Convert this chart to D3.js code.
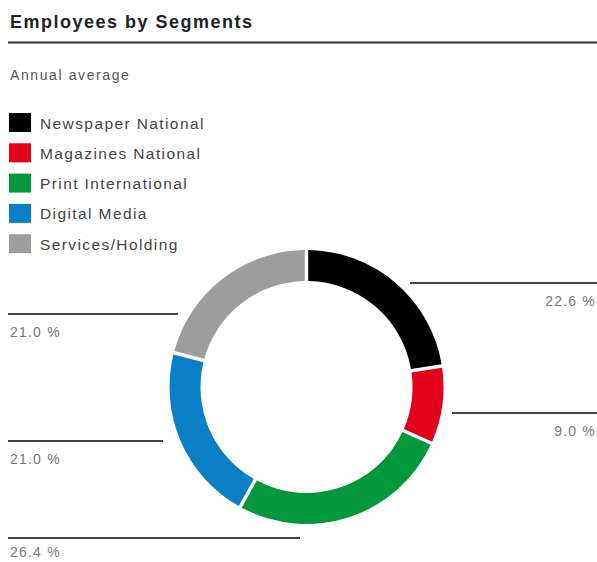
<!DOCTYPE html>
<html>
<head>
<meta charset="utf-8">
<script src="https://cdn.jsdelivr.net/npm/d3@7"></script>
<style>
  body { margin: 0; background: #fff; }
  text { font-family: "Liberation Sans", Arial, sans-serif; }
</style>
</head>
<body>
<div id="vis-holder"></div>
<script>
// chart data
const segments = ["Newspaper National", "Magazines National", "Print International", "Digital Media", "Services/Holding"];
const shares = [22.6, 9.0, 26.4, 21.0, 21.0];
const colors = ["#000000", "#e2001a", "#00983a", "#0a7fc6", "#9d9d9d"];
const labelText = ["22.6 %", "9.0 %", "26.4 %", "21.0 %", "21.0 %"];

const width = 597;
const height = 562;

const svg = d3.select("#vis-holder")
  .append("svg")
  .attr("width", width)
  .attr("height", height);

// title + rule
svg.append("text")
  .attr("x", 10).attr("y", 28)
  .attr("font-size", "18px")
  .attr("font-weight", "bold")
  .attr("letter-spacing", "1.5px")
  .attr("fill", "#222")
  .text("Employees by Segments");

svg.append("line")
  .attr("x1", 8).attr("x2", width)
  .attr("y1", 42.5).attr("y2", 42.5)
  .attr("stroke", "#333").attr("stroke-width", 2);

svg.append("text")
  .attr("x", 10).attr("y", 80)
  .attr("font-size", "14px")
  .attr("letter-spacing", "1.6px")
  .attr("fill", "#555")
  .text("Annual average");

// legend
const legend = svg.append("g").attr("transform", "translate(9,113)");
const rows = legend.selectAll("g")
  .data(segments)
  .enter().append("g")
  .attr("transform", (d, i) => `translate(0,${i * 30.3})`);

rows.append("rect")
  .attr("width", 22).attr("height", 19)
  .attr("fill", (d, i) => colors[i]);

rows.append("text")
  .attr("x", 31).attr("y", 15.5)
  .attr("font-size", "15.5px")
  .attr("letter-spacing", "1.4px")
  .attr("fill", "#444")
  .text(d => d);

// donut
const cx = 306.5, cy = 387, outerR = 137, innerR = 106;

const pie = d3.pie().sort(null).value(d => d)
  .padAngle(0.02);
const arcs = pie(shares);

const arc = d3.arc().innerRadius(innerR).outerRadius(outerR);

const donut = svg.append("g").attr("transform", `translate(${cx},${cy})`);
donut.selectAll("path")
  .data(arcs)
  .enter().append("path")
  .attr("d", arc)
  .attr("fill", (d, i) => colors[i]);

// leader lines + labels
const leaders = [
  { x1: 410, x2: 597, y: 283, dy: 23, side: "right" },
  { x1: 452, x2: 597, y: 413, dy: 23, side: "right" },
  { x1: 8, x2: 300, y: 538, dy: 19, side: "left" },
  { x1: 8, x2: 163, y: 441, dy: 23, side: "left" },
  { x1: 8, x2: 178, y: 314, dy: 23, side: "left" }
];

const lab = svg.append("g");
lab.selectAll("line")
  .data(leaders)
  .enter().append("line")
  .attr("x1", d => d.x1).attr("x2", d => d.x2)
  .attr("y1", d => d.y).attr("y2", d => d.y)
  .attr("stroke", "#444").attr("stroke-width", 2);

lab.selectAll("text")
  .data(leaders)
  .enter().append("text")
  .attr("x", d => d.side === "right" ? 596 : 10)
  .attr("y", d => d.y + d.dy)
  .attr("text-anchor", d => d.side === "right" ? "end" : "start")
  .attr("font-size", "14px")
  .attr("letter-spacing", "1.2px")
  .attr("fill", "#777")
  .text((d, i) => labelText[i]);
</script>
</body>
</html>
